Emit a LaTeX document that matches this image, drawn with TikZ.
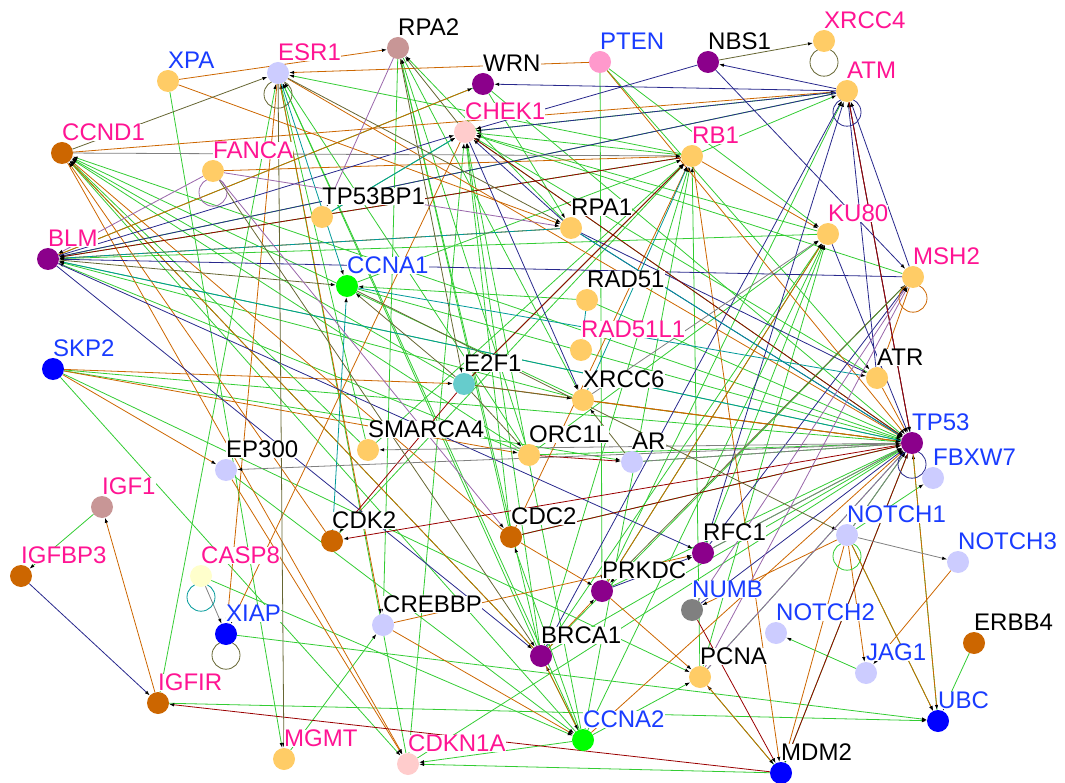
\documentclass[tikz,border=0pt]{standalone}
\usepackage{fontspec}
\setmainfont{Liberation Sans}
\usetikzlibrary{arrows.meta,backgrounds}
% node fills
\definecolor{cor}{RGB}{255,204,102}
\definecolor{clav}{RGB}{204,204,255}
\definecolor{cpur}{RGB}{139,0,139}
\definecolor{cbr}{RGB}{204,102,0}
\definecolor{cbl}{RGB}{0,0,255}
\definecolor{cgr}{RGB}{0,255,0}
\definecolor{cte}{RGB}{102,204,204}
\definecolor{cro}{RGB}{200,150,150}
\definecolor{cpk}{RGB}{255,204,204}
\definecolor{cpt}{RGB}{255,153,204}
\definecolor{cye}{RGB}{255,255,204}
\definecolor{cgy}{RGB}{128,128,128}
% label texts
\definecolor{lp}{RGB}{255,20,147}
\definecolor{lb}{RGB}{25,60,255}
% edges
\definecolor{eg}{RGB}{51,204,51}
\definecolor{eo}{RGB}{204,102,0}
\definecolor{en}{RGB}{40,40,140}
\definecolor{er}{RGB}{153,0,0}
\definecolor{et}{RGB}{0,153,153}
\definecolor{el}{RGB}{102,102,51}
\definecolor{egy}{RGB}{128,128,128}
\definecolor{ev}{RGB}{153,102,170}
\begin{document}
\begin{tikzpicture}[x=1pt,y=-1pt,label distance=1pt,
  gene/.style={circle,minimum size=22pt,inner sep=0pt},
  lbl/.style={anchor=base west,inner sep=0pt,fill=white,font=\fontsize{24}{26}\selectfont},
  link/.style={-{Latex[length=5pt,width=3.5pt,color=black]},line width=.8pt},
  loopy/.style={line width=.8pt}]
\useasboundingbox (0,0) rectangle (1065,783);
% genes
\foreach \n/\x/\y/\c/\t in {XPA/168/81/cor/lb, ESR1/278/73/clav/lp, RPA2/398/48/cro/black,
  WRN/483/84/cpur/black, PTEN/600/62/cpt/lb, NBS1/708/62/cpur/black, XRCC4/824/41/cor/lp,
  ATM/847/91/cor/lp, CHEK1/465/132/cpk/lp, CCND1/62/153/cbr/lp, FANCA/213/171/cor/lp,
  RB1/692/156/cor/lp, TP53BP1/322/217/cor/black, RPA1/571/228/cor/black, KU80/828/234/cor/lp,
  BLM/48/259/cpur/lp, MSH2/913/277/cor/lp, CCNA1/347/286/cgr/lb, RAD51/587/300/cor/black,
  RAD51L1/581/350/cor/lp, SKP2/53/369/cbl/lb, E2F1/464/384/cte/black, ATR/877/378/cor/black,
  XRCC6/583/400/cor/black, TP53/912/443/cpur/lb, SMARCA4/368/450/cor/black, EP300/226/470/clav/black,
  ORC1L/529/455/cor/black, AR/632/462/clav/black, FBXW7/933/478/clav/lb, IGF1/102/507/cro/lp,
  CDK2/332/541/cbr/black, CDC2/511/537/cbr/black, NOTCH1/847/535/clav/lb, RFC1/703/553/cpur/black,
  NOTCH3/958/562/clav/lb, IGFBP3/21/576/cbr/lp, CASP8/201/576/cye/lp, PRKDC/602/591/cpur/black,
  NUMB/692/610/cgy/lb, XIAP/226/634/cbl/lb, CREBBP/383/625/clav/black, NOTCH2/776/633/clav/lb,
  ERBB4/974/643/cbr/black, BRCA1/541/656/cpur/black, JAG1/866/673/clav/lb, PCNA/700/677/cor/black,
  IGFIR/158/703/cbr/lp, UBC/938/721/cbl/lb, CCNA2/583/740/cgr/lb, MGMT/284/759/cor/lp,
  CDKN1A/408/764/cpk/lp, MDM2/781/773/cbl/black}
  \node[gene,fill=\c,label={[lbl,text=\t]90:\n}] (\n) at (\x,\y) {};
\begin{scope}[on background layer]
% interactions
\foreach \a/\b in {ORC1L/CCND1, SMARCA4/CCND1, TP53/CCND1, CCNA2/CCND1, E2F1/CCND1, XRCC6/CCND1,
  BRCA1/CCND1, RB1/BLM, KU80/BLM, XRCC6/BLM, ATM/BLM, TP53/BLM, ORC1L/BLM, WRN/BLM,
  CHEK1/TP53, KU80/CHEK1, MSH2/CHEK1, CDC2/CHEK1, BRCA1/CHEK1, CCNA2/CHEK1, ATR/CHEK1,
  CDKN1A/CHEK1, RB1/CHEK1, TP53BP1/CHEK1, BRCA1/ESR1, CCNA2/ESR1, CDKN1A/ESR1, SMARCA4/ESR1,
  RB1/ESR1, ORC1L/ESR1, IGFIR/ESR1, RPA2/CREBBP, BRCA1/RPA2, ORC1L/RPA2, RPA2/XRCC6, CDC2/RPA2,
  RPA1/RPA2, WRN/RPA1, WRN/TP53, PTEN/KU80, PTEN/ATR, PTEN/PRKDC, CHEK1/ATM, RB1/ATM, PRKDC/ATM,
  E2F1/RB1, CCNA2/RB1, CDK2/RB1, SMARCA4/RB1, BRCA1/RB1, CCNA1/RB1, PCNA/RB1, BRCA1/KU80,
  PRKDC/KU80, RFC1/KU80, PCNA/KU80, CCNA2/KU80, ORC1L/KU80, BRCA1/MSH2, CCNA1/TP53, RAD51/TP53,
  XRCC6/TP53, ORC1L/TP53, BRCA1/TP53, RFC1/TP53, PRKDC/TP53, PCNA/TP53, SKP2/TP53, NOTCH1/TP53,
  UBC/TP53, MDM2/TP53, AR/TP53, CDKN1A/TP53, CDC2/TP53, SKP2/AR, SKP2/PCNA, SKP2/CDKN1A,
  IGF1/IGFBP3, XPA/MGMT, XIAP/UBC, IGFIR/UBC, CASP8/CCNA2, MGMT/CREBBP, CCNA2/CDKN1A, CCNA2/BRCA1,
  CCNA2/CDC2, CCNA2/PCNA, MDM2/CDKN1A, MDM2/PCNA, NOTCH1/FBXW7, NOTCH1/UBC, ERBB4/UBC,
  JAG1/NOTCH2, RAD51/CCNA1, EP300/CCNA2}
  \draw[link,eg] (\a) -- (\b);
\foreach \a/\b in {XPA/RPA2, XPA/RPA1, CDK2/CCND1, CDC2/CCND1, CCND1/CDKN1A, BLM/WRN, PTEN/ESR1,
  PTEN/TP53, ESR1/CREBBP, ESR1/TP53, ESR1/XIAP, CHEK1/XIAP, RB1/KU80, RB1/MDM2, CDC2/RB1,
  CCND1/ATM, PRKDC/KU80, MSH2/ATR, ATR/TP53, ATM/TP53, E2F1/TP53, XRCC6/TP53, CCNA2/TP53,
  TP53/UBC, CREBBP/RFC1, CREBBP/CCNA2, EP300/CDKN1A, NOTCH1/JAG1, NOTCH1/UBC, NOTCH1/NUMB,
  NOTCH3/JAG1, PCNA/MDM2, NOTCH1/MDM2, IGFIR/IGF1, BRCA1/PRKDC, BRCA1/CCNA2, CDC2/PRKDC,
  PRKDC/PCNA, SKP2/ORC1L, SKP2/E2F1, RPA1/BLM, FANCA/RB1, BRCA1/CCND1, SKP2/EP300}
  \draw[link,eo] (\a) -- (\b);
\foreach \a/\b in {ATM/NBS1, ATM/WRN, ATM/CHEK1, ATM/BLM, TP53/ATM, MSH2/ATM, ATR/ATM, RFC1/ATM,
  BRCA1/ATM, NBS1/MSH2, NBS1/CHEK1, BLM/CHEK1, MSH2/BLM, BLM/RFC1, BLM/BRCA1, RPA1/CHEK1,
  RPA1/TP53, CHEK1/XRCC6, KU80/TP53, IGFBP3/IGFIR, RFC1/MSH2, NUMB/TP53, RPA1/ATR, PRKDC/RFC1}
  \draw[link,en] (\a) -- (\b);
\foreach \a/\b in {RB1/BLM, E2F1/RB1, E2F1/CDK2, TP53/CDK2, CDC2/TP53, CHEK1/TP53, ORC1L/AR,
  MDM2/IGFIR, TP53/MDM2, NUMB/MDM2, ATM/TP53}
  \draw[link,er] (\a) -- (\b);
\foreach \a/\b in {TP53/BLM, RPA1/BLM, TP53BP1/CHEK1, ESR1/CCNA1, RAD51/RAD51L1, XRCC6/RB1,
  CDK2/CCNA1, RPA1/TP53, CCNA1/ATR}
  \draw[link,et] (\a) -- (\b);
\foreach \a/\b in {CCND1/ESR1, ESR1/MGMT, NBS1/XRCC4, E2F1/CCNA1, E2F1/ORC1L, E2F1/XRCC6,
  AR/XRCC6, MSH2/PRKDC, CCNA1/NOTCH1, FANCA/BRCA1, ESR1/RPA1, RPA2/E2F1, BLM/CCNA1, CHEK1/RPA2}
  \draw[link,el] (\a) -- (\b);
\foreach \a/\b in {CCND1/RB1, TP53/SMARCA4, TP53/EP300, AR/TP53, NOTCH1/NOTCH3, CASP8/XIAP,
  XRCC6/KU80, NOTCH1/TP53, RFC1/TP53}
  \draw[link,egy] (\a) -- (\b);
\foreach \a/\b in {FANCA/BLM, FANCA/RPA1, RPA2/TP53BP1, FANCA/CDC2, PCNA/MSH2, PCNA/TP53, NUMB/MSH2}
  \draw[link,ev] (\a) -- (\b);
% self loops
\foreach \n/\c in {ESR1/el, FANCA/ev, XRCC4/el, ATM/en, MSH2/eo, TP53/en, NOTCH1/eg, CASP8/et, XIAP/el}
  \draw[loopy,\c] ([yshift=-10pt]\n.south) circle[radius=14pt];
\end{scope}
\end{tikzpicture}
\end{document}
